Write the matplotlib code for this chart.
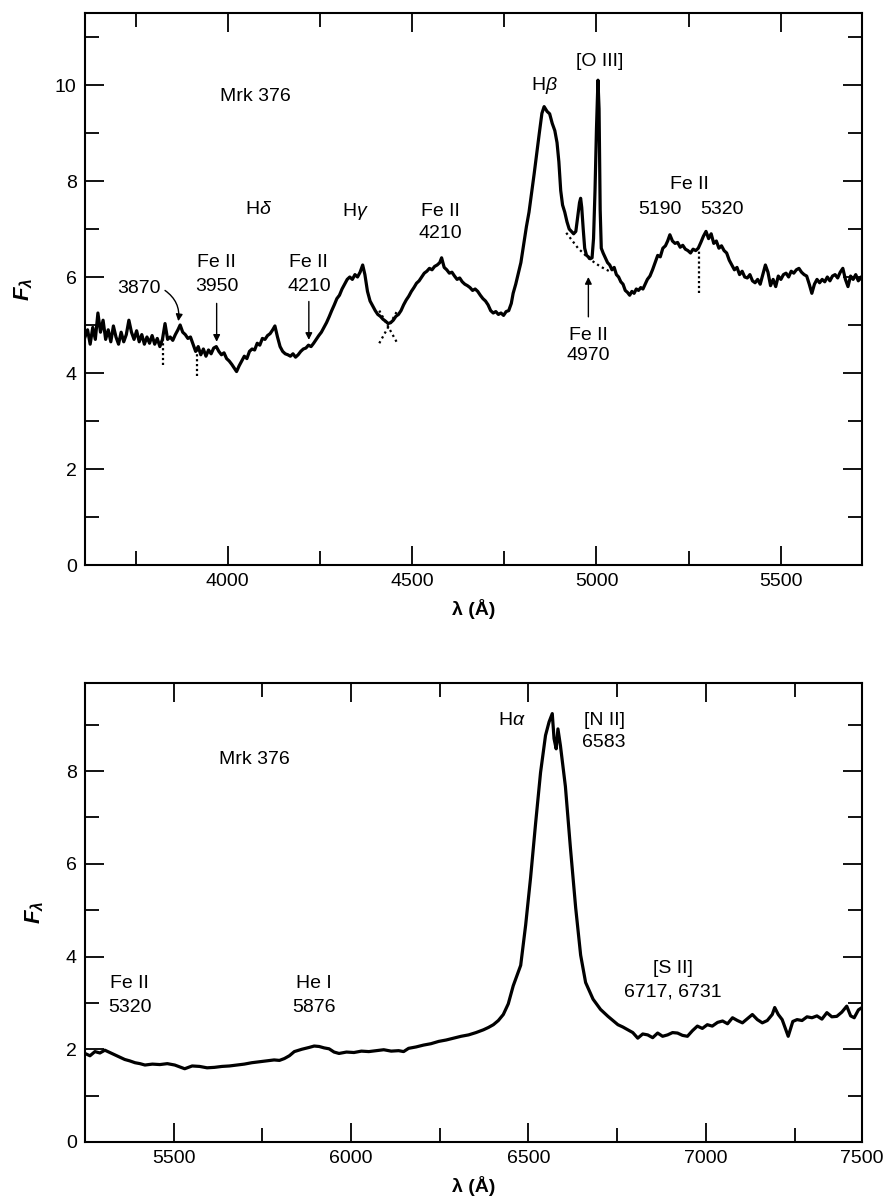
import numpy as np
import matplotlib.pyplot as plt
from matplotlib.ticker import MultipleLocator

plt.rcParams['font.family'] = ['Liberation Sans', 'DejaVu Sans']
plt.rcParams['mathtext.fontset'] = 'custom'
plt.rcParams['mathtext.rm'] = 'Liberation Sans'
plt.rcParams['mathtext.it'] = 'Liberation Sans:italic'
plt.rcParams['mathtext.bf'] = 'Liberation Sans:bold'
plt.rcParams['mathtext.bfit'] = 'Liberation Sans:italic:bold'

# Spektr Mrk 376, sinyaya chast'
wave_top = [3613, 3620, 3627, 3634, 3641, 3648, 3655, 3662, 3669, 3676, 3683, 3690, 3697, 3704,
            3711, 3718, 3725, 3732, 3739, 3746, 3753, 3760, 3767, 3774, 3781, 3788, 3795, 3802,
            3809, 3816, 3823, 3830, 3837, 3844, 3851, 3858, 3865, 3871, 3878, 3885, 3892, 3899,
            3906, 3913, 3920, 3927, 3934, 3941, 3948, 3955, 3962, 3969, 3976, 3983, 3990, 3997,
            4004, 4011, 4018, 4024, 4031, 4038, 4045, 4052, 4059, 4066, 4073, 4080, 4087, 4094,
            4101, 4108, 4115, 4122, 4128, 4135, 4142, 4149, 4156, 4163, 4170, 4177, 4184, 4191,
            4198, 4205, 4212, 4219, 4226, 4233, 4240, 4247, 4254, 4261, 4268, 4275, 4282, 4289,
            4296, 4303, 4310, 4317, 4324, 4331, 4338, 4345, 4352, 4359, 4366, 4372, 4379, 4386,
            4393, 4400, 4407, 4414, 4421, 4428, 4435, 4442, 4449, 4456, 4463, 4470, 4477, 4484,
            4491, 4498, 4505, 4512, 4519, 4526, 4533, 4540, 4547, 4554, 4561, 4568, 4575, 4580,
            4587, 4594, 4601, 4608, 4615, 4622, 4629, 4636, 4643, 4650, 4657, 4664, 4671, 4678,
            4685, 4692, 4699, 4706, 4713, 4720, 4727, 4734, 4741, 4748, 4755, 4762, 4769, 4774,
            4781, 4788, 4795, 4802, 4810, 4817, 4824, 4831, 4838, 4845, 4852, 4858, 4862, 4866,
            4873, 4880, 4887, 4893, 4898, 4903, 4908, 4914, 4920, 4926, 4932, 4938, 4944, 4950,
            4954, 4957, 4960, 4964, 4968, 4973, 4978, 4983, 4988, 4992, 4996, 5000, 5004, 5007,
            5010, 5013, 5018, 5024, 5030, 5036, 5042, 5048, 5054, 5060, 5066, 5072, 5078, 5084,
            5090, 5096, 5102, 5108, 5114, 5120, 5126, 5132, 5138, 5145, 5152, 5159, 5166, 5173,
            5180, 5187, 5193, 5199, 5206, 5213, 5220, 5227, 5234, 5241, 5248, 5255, 5262, 5269,
            5276, 5283, 5290, 5297, 5304, 5311, 5318, 5325, 5332, 5339, 5346, 5353, 5360, 5367,
            5374, 5381, 5388, 5395, 5402, 5409, 5416, 5423, 5430, 5437, 5444, 5451, 5458, 5465,
            5472, 5479, 5486, 5493, 5500, 5507, 5514, 5521, 5528, 5535, 5542, 5549, 5556, 5563,
            5570, 5577, 5584, 5591, 5598, 5605, 5612, 5619, 5626, 5633, 5640, 5647, 5654, 5661,
            5668, 5675, 5682, 5689, 5696, 5703, 5710, 5717, 5720]
flux_top = [4.75, 4.90, 4.60, 4.95, 4.70, 5.25, 4.85, 5.10, 4.70, 4.90, 4.65, 4.98, 4.75, 4.60,
            4.85, 4.65, 4.80, 5.10, 4.85, 4.70, 4.88, 4.65, 4.80, 4.60, 4.75, 4.62, 4.78, 4.60,
            4.72, 4.55, 4.70, 5.03, 4.70, 4.75, 4.68, 4.80, 4.90, 5.00, 4.85, 4.80, 4.72, 4.75,
            4.60, 4.45, 4.55, 4.38, 4.50, 4.35, 4.48, 4.40, 4.52, 4.55, 4.45, 4.38, 4.42, 4.30,
            4.25, 4.18, 4.10, 4.03, 4.15, 4.25, 4.35, 4.30, 4.45, 4.50, 4.48, 4.62, 4.58, 4.72,
            4.70, 4.78, 4.82, 4.90, 4.98, 4.75, 4.55, 4.45, 4.40, 4.38, 4.35, 4.40, 4.33, 4.38,
            4.45, 4.50, 4.52, 4.58, 4.55, 4.62, 4.70, 4.78, 4.85, 4.95, 5.05, 5.17, 5.30, 5.42,
            5.55, 5.62, 5.75, 5.85, 5.95, 6.00, 5.95, 6.05, 6.00, 6.10, 6.25, 6.05, 5.70, 5.50,
            5.40, 5.30, 5.22, 5.18, 5.12, 5.08, 5.03, 5.05, 5.10, 5.18, 5.22, 5.30, 5.42, 5.52,
            5.60, 5.70, 5.78, 5.87, 5.92, 6.00, 6.08, 6.12, 6.18, 6.15, 6.22, 6.25, 6.30, 6.40,
            6.20, 6.15, 6.08, 6.10, 6.02, 5.95, 5.98, 5.90, 5.85, 5.82, 5.78, 5.72, 5.75, 5.70,
            5.62, 5.55, 5.50, 5.42, 5.30, 5.25, 5.28, 5.22, 5.25, 5.20, 5.28, 5.30, 5.45, 5.66,
            5.85, 6.08, 6.30, 6.65, 7.05, 7.35, 7.75, 8.15, 8.58, 9.00, 9.41, 9.55, 9.50, 9.45,
            9.40, 9.20, 9.05, 8.80, 8.40, 7.80, 7.50, 7.35, 7.15, 7.00, 6.95, 6.90, 6.95, 7.30,
            7.55, 7.64, 7.45, 7.00, 6.60, 6.45, 6.42, 6.38, 6.40, 6.80, 7.80, 9.10, 10.10, 9.50,
            7.40, 6.60, 6.50, 6.40, 6.30, 6.25, 6.15, 6.20, 6.05, 6.00, 5.90, 5.85, 5.72, 5.68,
            5.62, 5.70, 5.66, 5.75, 5.72, 5.78, 5.75, 5.85, 5.95, 6.02, 6.15, 6.30, 6.45, 6.42,
            6.60, 6.65, 6.75, 6.88, 6.75, 6.70, 6.72, 6.62, 6.66, 6.58, 6.55, 6.50, 6.58, 6.55,
            6.60, 6.72, 6.85, 6.95, 6.80, 6.90, 6.70, 6.75, 6.60, 6.65, 6.55, 6.50, 6.35, 6.25,
            6.15, 6.20, 6.05, 6.12, 6.00, 5.98, 6.05, 5.92, 5.88, 5.95, 5.85, 6.05, 6.25, 6.10,
            5.82, 5.95, 5.80, 6.02, 5.95, 6.05, 6.08, 6.00, 6.12, 6.08, 6.15, 6.18, 6.10, 6.05,
            6.02, 5.85, 5.66, 5.85, 5.95, 5.88, 5.95, 5.90, 6.00, 5.92, 6.02, 6.05, 5.98, 6.10,
            6.18, 5.95, 5.80, 6.02, 5.95, 6.05, 5.92, 6.00, 5.95]

# Krasnaya chast'
wave_bot = [5250, 5264, 5278, 5292, 5306, 5320, 5334, 5348, 5362, 5376, 5391, 5405, 5419, 5440,
            5461, 5482, 5503, 5517, 5531, 5552, 5573, 5594, 5615, 5636, 5657, 5678, 5699, 5720,
            5741, 5762, 5783, 5798, 5812, 5826, 5840, 5861, 5882, 5896, 5910, 5924, 5938, 5952,
            5966, 5987, 6008, 6029, 6050, 6071, 6092, 6113, 6134, 6148, 6162, 6183, 6204, 6225,
            6247, 6268, 6289, 6310, 6331, 6352, 6373, 6387, 6401, 6415, 6429, 6443, 6457, 6468,
            6478, 6492, 6506, 6520, 6534, 6548, 6558, 6567, 6572, 6578, 6583, 6590, 6604, 6618,
            6633, 6647, 6661, 6682, 6703, 6714, 6724, 6738, 6752, 6766, 6780, 6794, 6808, 6822,
            6836, 6850, 6864, 6878, 6892, 6906, 6920, 6934, 6948, 6962, 6976, 6990, 7004, 7018,
            7033, 7047, 7061, 7075, 7089, 7103, 7117, 7131, 7145, 7159, 7173, 7187, 7194, 7204,
            7215, 7232, 7245, 7257, 7271, 7285, 7299, 7313, 7327, 7341, 7355, 7369, 7383, 7397,
            7408, 7418, 7430, 7440]
flux_bot = [1.91, 1.86, 1.95, 1.92, 1.98, 1.93, 1.88, 1.83, 1.78, 1.75, 1.71, 1.69, 1.66, 1.68,
            1.67, 1.69, 1.66, 1.62, 1.58, 1.64, 1.63, 1.60, 1.61, 1.63, 1.64, 1.66, 1.68, 1.71,
            1.73, 1.75, 1.77, 1.76, 1.80, 1.86, 1.95, 2.00, 2.04, 2.07, 2.06, 2.03, 2.01, 1.94,
            1.91, 1.94, 1.93, 1.96, 1.95, 1.97, 1.99, 1.96, 1.97, 1.95, 2.02, 2.05, 2.09, 2.12,
            2.17, 2.20, 2.24, 2.28, 2.31, 2.36, 2.42, 2.47, 2.53, 2.62, 2.75, 2.98, 3.37, 3.60,
            3.81, 4.68, 5.71, 6.87, 7.97, 8.77, 9.06, 9.24, 8.70, 8.48, 8.91, 8.55, 7.67, 6.36,
            5.05, 4.03, 3.44, 3.08, 2.86, 2.78, 2.71, 2.62, 2.53, 2.48, 2.42, 2.36, 2.24, 2.33,
            2.31, 2.25, 2.35, 2.28, 2.31, 2.36, 2.35, 2.30, 2.28, 2.40, 2.50, 2.45, 2.53, 2.50,
            2.58, 2.61, 2.55, 2.68, 2.62, 2.57, 2.66, 2.75, 2.64, 2.57, 2.62, 2.75, 2.90, 2.75,
            2.64, 2.28, 2.60, 2.64, 2.62, 2.70, 2.68, 2.72, 2.65, 2.79, 2.70, 2.71, 2.80, 2.93,
            2.72, 2.68, 2.85, 2.90]

# Punktirnye otmetki
dip_wave = [3825, 3916, 5277]
dip_hi = [4.70, 4.50, 6.55]
dip_lo = [4.16, 3.93, 5.66]
cont_wave = [4918, 4950, 4980, 5010, 5040]
cont_flux = [6.92, 6.60, 6.38, 6.22, 6.10]
cross_wave = [4411, 4460]
cross_flux = [4.62, 5.30]

fig = plt.figure(figsize=(8.87, 12.01), dpi=100)
ax1 = fig.add_axes([85 / 887, 1 - 565 / 1201, 777 / 887, 552 / 1201])
ax2 = fig.add_axes([85 / 887, 1 - 1142 / 1201, 777 / 887, 459 / 1201])

fs = 14
for ax in (ax1, ax2):
    ax.tick_params(which='both', direction='in', top=True, right=True, width=1.3,
                   labelsize=fs, pad=6)
    ax.tick_params(which='major', length=14)
    ax.tick_params(which='minor', length=10)
    ax.yaxis.set_major_locator(MultipleLocator(2))
    ax.yaxis.set_minor_locator(MultipleLocator(1))
    ax.xaxis.set_minor_locator(MultipleLocator(250))
    for s in ax.spines.values():
        s.set_linewidth(1.5)
    ax.set_ylabel(r'$\mathbfit{F}_{\mathbfit{\lambda}}$', fontsize=fs + 2, labelpad=14)
    ax.set_xlabel('λ (Å)', fontsize=fs, fontweight='bold', labelpad=6)

# Verkhnyaya panel'
ax1.plot(wave_top, flux_top, color='black', lw=2.3)
ax1.vlines(dip_wave, dip_lo, dip_hi, colors='black', linestyles=(0, (1, 1.2)), lw=1.6)
ax1.plot(cont_wave, cont_flux, color='black', ls=(0, (1, 1.5)), lw=1.6)
ax1.plot(cross_wave, cross_flux, color='black', ls=(0, (1, 1.5)), lw=1.6)
ax1.plot(cross_wave, cross_flux[::-1], color='black', ls=(0, (1, 1.5)), lw=1.6)
ax1.set_xlim(3613, 5720)
ax1.set_ylim(0, 11.5)
ax1.set_xticks([4000, 4500, 5000, 5500])

t = dict(ha='center', va='center', fontsize=fs)
ax1.text(4074, 9.76, 'Mrk 376', **t)
ax1.text(4083, 7.41, r'H$\it{\delta}$', **t)
ax1.text(4345, 7.36, r'H$\it{\gamma}$', **t)
ax1.text(4576, 7.36, 'Fe II', **t)
ax1.text(4576, 6.91, '4210', **t)
ax1.text(4860, 10.0, r'H$\it{\beta}$', **t)
ax1.text(5009, 10.48, '[O III]', **t)
ax1.text(5253, 7.92, 'Fe II', **t)
ax1.text(5172, 7.40, '5190', **t)
ax1.text(5339, 7.40, '5320', **t)
ax1.text(3758, 5.77, '3870', **t)
ax1.text(3970, 6.30, 'Fe II', **t)
ax1.text(3970, 5.80, '3950', **t)
ax1.text(4220, 6.30, 'Fe II', **t)
ax1.text(4220, 5.80, '4210', **t)
ax1.text(4978, 4.79, 'Fe II', **t)
ax1.text(4978, 4.37, '4970', **t)

arr = dict(arrowstyle='-|>', color='black', lw=1.0, mutation_scale=10, shrinkA=0, shrinkB=0)
ax1.annotate('', xy=(3866, 5.08), xytext=(3830, 5.72),
             arrowprops=dict(connectionstyle='arc3,rad=-0.3', **arr))
ax1.annotate('', xy=(3970, 4.65), xytext=(3970, 5.45), arrowprops=arr)
ax1.annotate('', xy=(4220, 4.69), xytext=(4220, 5.49), arrowprops=arr)
ax1.annotate('', xy=(4978, 6.0), xytext=(4978, 5.17), arrowprops=arr)

# Nizhnyaya panel'
ax2.plot(wave_bot, flux_bot, color='black', lw=2.3)
ax2.set_xlim(5250, 7440)
ax2.set_ylim(0, 9.9)
ax2.set_xticks([5500, 6000, 6500, 7000, 7440])
ax2.set_xticklabels(['5500', '6000', '6500', '7000', '7500'])

ax2.text(5727, 8.26, 'Mrk 376', **t)
ax2.text(6454, 9.10, r'H$\it{\alpha}$', **t)
ax2.text(6713, 9.10, '[N II]', **t)
ax2.text(6713, 8.62, '6583', **t)
ax2.text(5376, 3.41, 'Fe II', **t)
ax2.text(5376, 2.90, '5320', **t)
ax2.text(5896, 3.41, 'He I', **t)
ax2.text(5896, 2.90, '5876', **t)
ax2.text(6906, 3.74, '[S II]', **t)
ax2.text(6906, 3.23, '6717, 6731', **t)

fig.savefig('out.png', dpi=100)
